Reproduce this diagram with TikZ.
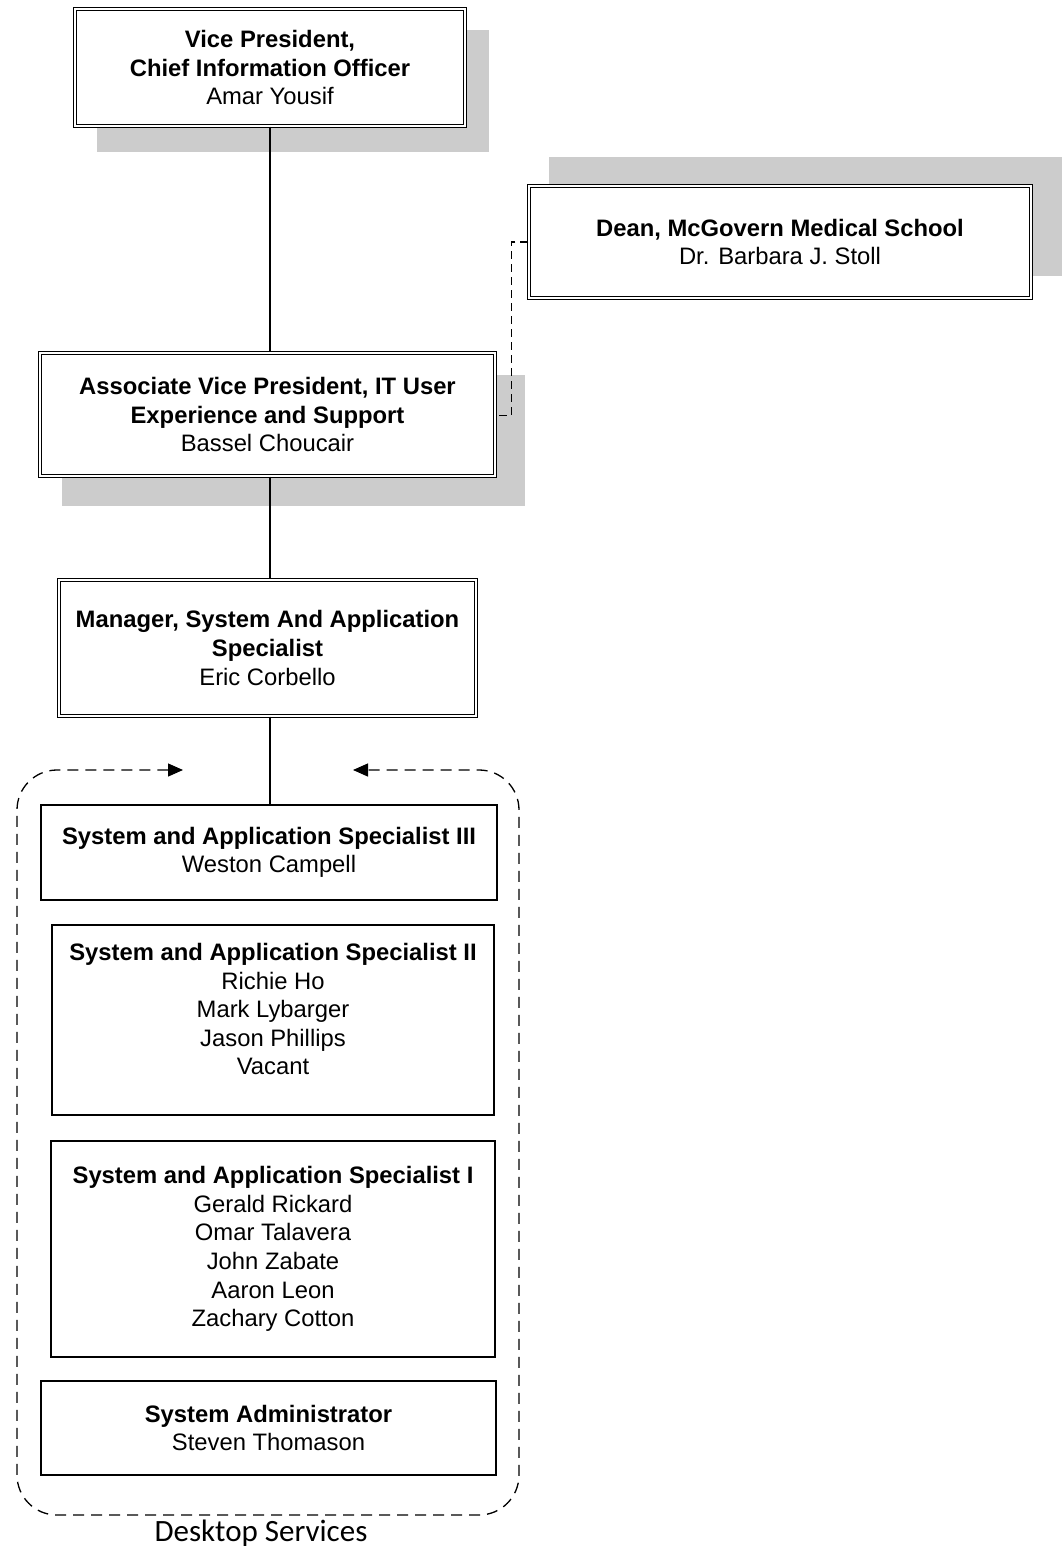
\documentclass[tikz,border=0pt]{standalone}
\usepackage{fontspec}
\setmainfont{Liberation Sans}
\newfontfamily\labelfont{Carlito}
\usetikzlibrary{arrows.meta}
\definecolor{shadowgrey}{RGB}{204, 204, 204}

\begin{document}
\begin{tikzpicture}
  [
    x=1pt, y=-1pt,
    every node/.style={font=\fontsize{23.8}{28.6}\selectfont, align=center, inner sep=0pt},
    box/.style={draw, line width=1.4pt, fill=white},
    headbox/.style={box, line width=1.3pt, double, double distance=2.2pt},
    shade/.style={fill=shadowgrey},
    link/.style={line width=1.3pt},
    dottedlink/.style={line width=1.4pt, dash pattern=on 8pt off 5pt},
    group/.style={line width=1.3pt, dash pattern=on 11pt off 7pt, rounded corners=40pt,
      {Triangle[length=15pt, width=13pt]}-{Triangle[length=15pt, width=13pt]}}
  ]
  \useasboundingbox (0,0) rectangle (1062,1549);

  % shadows
  \fill[shade] (97,30) rectangle (489,152);
  \fill[shade] (549,157) rectangle (1062,276);
  \fill[shade] (62,375) rectangle (525,506);

  \node[headbox, minimum width=390pt, minimum height=117pt] (vp) at (270,67.5)
    {\textbf{Vice President,}\\ \textbf{Chief Information Officer}\\ Amar Yousif};
  \node[headbox, minimum width=502pt, minimum height=112pt] (dean) at (780,242)
    {\textbf{Dean, McGovern Medical School}\\ Dr. Barbara J. Stoll};
  \node[headbox, minimum width=455pt, minimum height=123pt] (avp) at (267.5,414.5)
    {\textbf{Associate Vice President, IT User}\\ \textbf{Experience and Support}\\ Bassel Choucair};
  \node[headbox, minimum width=417pt, minimum height=136pt] (mgr) at (267.5,648)
    {\textbf{Manager, System And Application}\\ \textbf{Specialist}\\ Eric Corbello};

  \node[box, minimum width=456pt, minimum height=95pt] (sas3) at (269,852.5)
    {\textbf{System and Application Specialist III}\\ Weston Campell};
  \node[box, minimum width=442pt, minimum height=190pt, text depth=22pt] (sas2) at (273,1020)
    {\textbf{System and Application Specialist II}\\ Richie Ho\\ Mark Lybarger\\ Jason Phillips\\ Vacant};
  \node[box, minimum width=444pt, minimum height=216pt] (sas1) at (273,1249)
    {\textbf{System and Application Specialist I}\\ Gerald Rickard\\ Omar Talavera\\ John Zabate\\ Aaron Leon\\ Zachary Cotton};
  \node[box, minimum width=455pt, minimum height=94pt] (sysadm) at (268.5,1428)
    {\textbf{System Administrator}\\ Steven Thomason};

  \draw[link] (vp.south -| 270,0) -- (avp.north -| 270,0);
  \draw[link] (avp.south -| 270,0) -- (mgr.north -| 270,0);
  \draw[link] (mgr.south -| 270,0) -- (sas3.north -| 270,0);
  \draw[dottedlink] (dean.west) -- ++(-17,0) |- ([yshift=-1pt]avp.east);

  % desktop services group
  \coordinate (grpleft) at (183,770);
  \coordinate (grpright) at (353,770);
  \draw[group] (grpleft) -- (17,770) -- (17,1515) -- (519,1515) -- (519,770) -- (grpright);
  \node[font=\labelfont\fontsize{31}{34}\selectfont] (grplabel) at (261,1533) {Desktop Services};
\end{tikzpicture}
\end{document}
